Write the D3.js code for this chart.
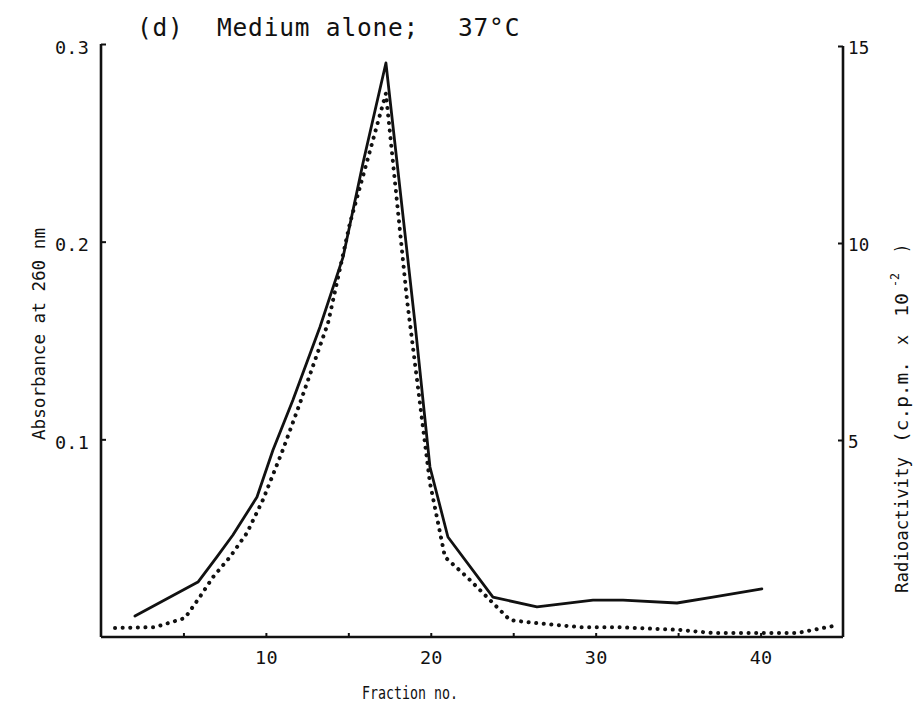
<!DOCTYPE html>
<html>
<head>
<meta charset="utf-8">
<script src="https://cdn.jsdelivr.net/npm/d3@7"></script>
<style>
  html, body { margin: 0; padding: 0; background: #fff; }
  svg { display: block; }
  text { font-family: "DejaVu Sans Mono", "Liberation Mono", monospace; fill: #111; }
</style>
</head>
<body>
<svg id="chart" width="915" height="704"></svg>
<script>
// ---- Data ----
// Solid line: Absorbance at 260 nm (left axis)
const absFraction = [2.06, 5.88, 7.03, 8.0, 9.46, 10.43, 11.64, 13.28, 14.68, 15.89, 17.28, 19.04, 19.95, 21.04, 23.77, 26.44, 29.84, 31.66, 34.93, 37.11, 40.08];
const absValues   = [0.0106, 0.0278, 0.0405, 0.0516, 0.0708, 0.0946, 0.1199, 0.1568, 0.1922, 0.2398, 0.2904, 0.1589, 0.086, 0.0506, 0.0202, 0.0152, 0.0187, 0.0187, 0.0172, 0.0202, 0.0243];
// Dotted line: Radioactivity (c.p.m. x 10^-2) (right axis)
const radFraction = [0.85, 3.27, 5.09, 6.0, 6.79, 7.82, 8.85, 9.82, 11.03, 12.07, 13.77, 15.1, 17.28, 18.56, 19.95, 20.86, 22.2, 24.8, 26.2, 29.05, 31.3, 35.1, 37.1, 39.8, 42.2, 43.8, 44.7];
const radValues   = [0.23, 0.25, 0.48, 1.02, 1.52, 2.03, 2.64, 3.48, 4.75, 5.94, 7.97, 10.51, 13.8, 8.55, 3.91, 2.03, 1.52, 0.43, 0.36, 0.25, 0.25, 0.18, 0.10, 0.10, 0.10, 0.23, 0.30];

const xTicks = [5, 10, 15, 20, 25, 30, 35, 40];
const xTickLabels = [10, 20, 30, 40];
const leftTicks = [0.1, 0.2, 0.3];
const rightTicks = [5, 10, 15];

const titleParts = ["(d)", "Medium alone;", "37°C"];
const xLabel = "Fraction no.";
const leftLabel = "Absorbance at 260 nm";
const rightLabelParts = ["Radioactivity", "(c.p.m.", "x", "10", "-2", ")"];

// ---- Scales ----
const svg = d3.select("#chart");
const x = d3.scaleLinear().domain([0, 45]).range([101, 843]);
const yL = d3.scaleLinear().domain([0, 0.3]).range([637, 44]);
const yR = d3.scaleLinear().domain([0, 15]).range([637, 46]);

// ---- Axes ----
const fmtL = d3.format(".1f");
const gL = svg.append("g").attr("transform", `translate(${x.range()[0]},0)`)
  .call(d3.axisLeft(yL).tickValues(leftTicks).tickSize(-5).tickSizeOuter(0).tickPadding(12).tickFormat(fmtL));
const gB = svg.append("g").attr("transform", `translate(0,${yL.range()[0]})`)
  .call(d3.axisBottom(x).tickValues(xTicks).tickSize(-4).tickSizeOuter(0).tickPadding(14)
    .tickFormat(d => xTickLabels.includes(d) ? d : ""));
const gR = svg.append("g").attr("transform", `translate(${x.range()[1]},0)`)
  .call(d3.axisRight(yR).tickValues(rightTicks).tickSize(-5).tickSizeOuter(0).tickPadding(5));

[gL, gB, gR].forEach(g => {
  g.select(".domain").attr("stroke", "#111").attr("stroke-width", 2.6);
  g.selectAll(".tick line").attr("stroke", "#111").attr("stroke-width", 2);
  g.selectAll(".tick text").attr("font-family", "DejaVu Sans Mono").attr("font-size", 18.5)
    .attr("letter-spacing", 0.2).attr("fill", "#111");
});
gL.selectAll(".tick text").attr("dy", "0.5em");
gR.selectAll(".tick text").attr("dy", "0.45em").attr("font-size", 17.5);
gR.select(".domain").attr("d", `M0,${yR(15)}V${yR(0)}`);
gL.select(".domain").attr("d", `M0,${yL(0.3)}V${yL(0)}`);
gB.select(".domain").attr("d", `M${x(0)},0H${x(45)}`);

// ---- Lines ----
const solidData = absFraction.map((f, i) => [f, absValues[i]]);
const dotData = radFraction.map((f, i) => [f, radValues[i]]);

svg.append("path")
  .datum(dotData)
  .attr("fill", "none")
  .attr("stroke", "#111")
  .attr("stroke-width", 4)
  .attr("stroke-linecap", "round")
  .attr("stroke-dasharray", "0.1 7.5")
  .attr("d", d3.line().x(d => x(d[0])).y(d => yR(d[1])));

svg.append("path")
  .datum(solidData)
  .attr("fill", "none")
  .attr("stroke", "#111")
  .attr("stroke-width", 2.8)
  .attr("stroke-linejoin", "round")
  .attr("stroke-linecap", "round")
  .attr("d", d3.line().x(d => x(d[0])).y(d => yL(d[1])));

// ---- Title ----
const titleX = [137, 217, 458];
titleParts.forEach((t, i) => {
  svg.append("text").attr("x", titleX[i]).attr("y", 36)
    .attr("font-size", 24.5).attr("letter-spacing", 0.8).text(t);
});

// ---- Axis labels ----
svg.append("text")
  .attr("x", 362).attr("y", 699)
  .attr("font-size", 17)
  .attr("textLength", 96)
  .attr("lengthAdjust", "spacingAndGlyphs")
  .text(xLabel);

svg.append("text")
  .attr("transform", "translate(45,440) rotate(-90)")
  .attr("font-size", 18.5)
  .attr("textLength", 212)
  .attr("lengthAdjust", "spacingAndGlyphs")
  .text(leftLabel);

const rg = svg.append("g").attr("transform", "translate(908,593) rotate(-90)");
const rPos = [0, 150, 248, 276, 306, 340];
const rLen = [136, 82, 10, 24, 14, 9];
rightLabelParts.forEach((t, i) => {
  const sup = i === 4;
  rg.append("text")
    .attr("x", rPos[i])
    .attr("y", sup ? -9 : 0)
    .attr("font-size", sup ? 13 : 18.5)
    .attr("textLength", rLen[i])
    .attr("lengthAdjust", "spacingAndGlyphs")
    .text(t);
});
</script>
</body>
</html>
